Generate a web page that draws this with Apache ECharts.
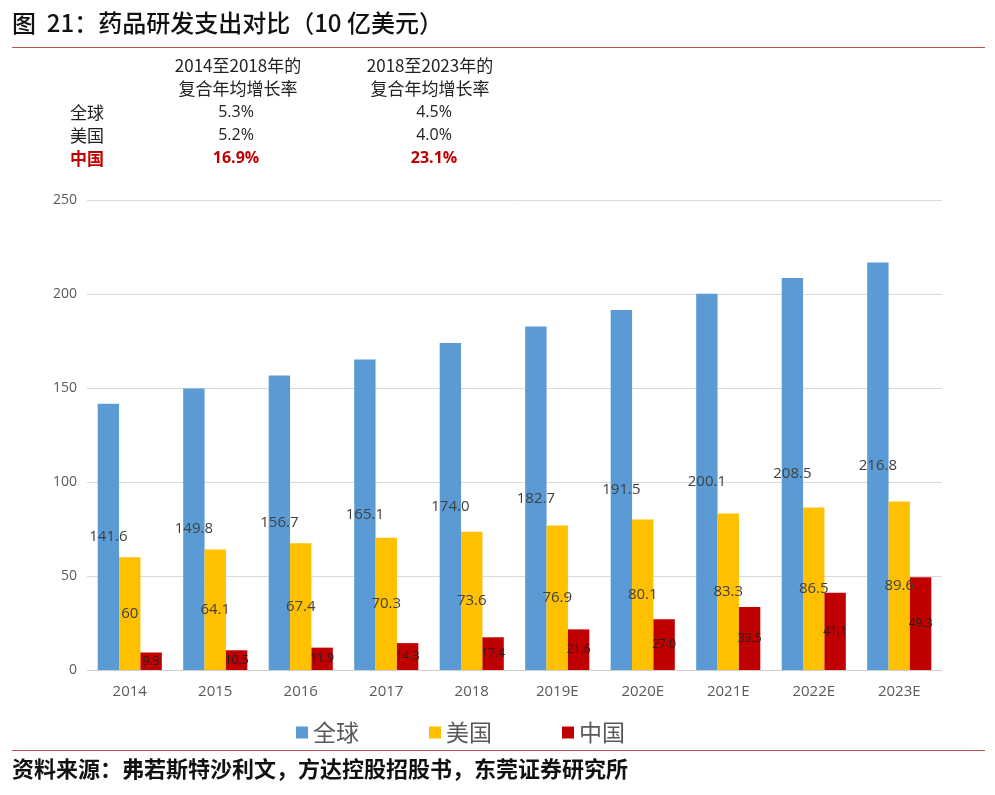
<!DOCTYPE html>
<html><head><meta charset="utf-8">
<script src="https://cdn.jsdelivr.net/npm/echarts@6/dist/echarts.min.js"></script>
<style>html,body{margin:0;padding:0;background:#fff}#c{width:995px;height:795px}</style>
</head><body><div id="c"></div>
<script>
var categories = ['2014','2015','2016','2017','2018','2019E','2020E','2021E','2022E','2023E'];
var globalValues = [141.6,149.8,156.7,165.1,174.0,182.7,191.5,200.1,208.5,216.8];
var usValues = [60,64.1,67.4,70.3,73.6,76.9,80.1,83.3,86.5,89.6];
var chinaValues = [9.3,10.5,11.9,14.3,17.4,21.6,27.0,33.5,41.1,49.3];
var seriesNames = ['全球','美国','中国'];
var yTicks = [0,50,100,150,200,250];
var tableHeader1 = ['2014至2018年的','复合年均增长率'];
var tableHeader2 = ['2018至2023年的','复合年均增长率'];
var tableRows = ['全球','美国','中国'];
var cagr1 = ['5.3%','5.2%','16.9%'];
var cagr2 = ['4.5%','4.0%','23.1%'];

var cjk = '"Noto Sans CJK SC", "Noto Sans", sans-serif';
var num = '"Open Sans", "Noto Sans", sans-serif';
var chart = echarts.init(document.getElementById('c'));

var g = [
  {type:'text', left:12, top:11, style:{text:'图  21：药品研发支出对比（10 亿美元）', font:'500 24px '+cjk, fill:'#111'}},
  {type:'rect', shape:{x:12, y:47, width:973, height:1}, style:{fill:'#c0504d'}},
  {type:'rect', shape:{x:12, y:750, width:973, height:1}, style:{fill:'#c0504d'}},
  {type:'text', left:12, top:758, style:{text:'资料来源：弗若斯特沙利文，方达控股招股书，东莞证券研究所', font:'bold 22px '+cjk, fill:'#111'}}
];
tableHeader1.forEach(function(t,i){
  g.push({type:'text', x:238, y:57+i*23, style:{text:t, font:'17px '+cjk, fill:'#222', textAlign:'center'}});
});
tableHeader2.forEach(function(t,i){
  g.push({type:'text', x:430, y:57+i*23, style:{text:t, font:'17px '+cjk, fill:'#222', textAlign:'center'}});
});
tableRows.forEach(function(t,i){
  var red = i===2;
  var col = red ? '#c00000' : '#222';
  var w = red ? 'bold ' : '';
  g.push({type:'text', x:70, y:104+i*23, style:{text:t, font:w+'17px '+cjk, fill:col}});
  g.push({type:'text', x:236, y:104+i*23, style:{text:cagr1[i], font:w+'16px '+num, fill:col, textAlign:'center'}});
  g.push({type:'text', x:434, y:104+i*23, style:{text:cagr2[i], font:w+'16px '+num, fill:col, textAlign:'center'}});
});

var bigLabel = {show:true, position:'inside', color:'#404040', fontSize:15, fontFamily:num};
chart.setOption({
  animation:false,
  graphic:g,
  grid:{left:87, right:53, top:200, bottom:125},
  legend:{bottom:46, left:291, itemWidth:12, itemHeight:12, itemGap:70, icon:'rect',
    textStyle:{fontSize:23, color:'#595959', fontFamily:cjk}, data:seriesNames},
  xAxis:{type:'category', data:categories,
    axisLine:{lineStyle:{color:'#d0d0d0'}}, axisTick:{show:false},
    axisLabel:{color:'#595959', fontSize:15, fontFamily:num, margin:14}},
  yAxis:{type:'value', min:yTicks[0], max:yTicks[yTicks.length-1], interval:50,
    axisLine:{show:false}, axisTick:{show:false},
    splitLine:{lineStyle:{color:'#d9d9d9'}},
    axisLabel:{color:'#595959', fontSize:14, fontFamily:num, margin:10}},
  series:[
    {name:seriesNames[0], type:'bar', data:globalValues, barGap:'0%', barCategoryGap:'25%',
     itemStyle:{color:'#5b9bd5'}, label:Object.assign({}, bigLabel, {formatter:function(p){return p.value.toFixed(1);}})},
    {name:seriesNames[1], type:'bar', data:usValues, barGap:'0%', barCategoryGap:'25%',
     itemStyle:{color:'#ffc000'}, label:Object.assign({}, bigLabel, {formatter:function(p){return String(p.value);}})},
    {name:seriesNames[2], type:'bar', data:chinaValues, barGap:'0%', barCategoryGap:'25%',
     itemStyle:{color:'#c00000'}, label:{show:true, position:'inside', color:'#222', fontSize:12, fontFamily:num,
       formatter:function(p){return p.value.toFixed(1);}}}
  ]
});
</script></body></html>
